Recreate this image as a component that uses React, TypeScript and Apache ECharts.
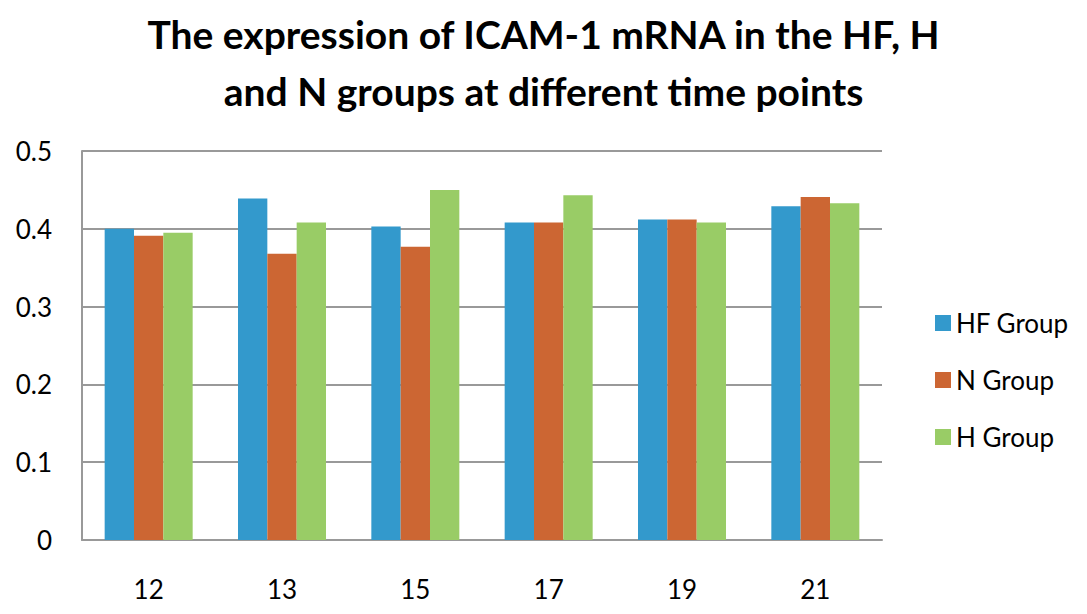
import React, { useEffect, useRef } from "react";
import * as echarts from "echarts";

const categories = ["12", "13", "15", "17", "19", "21"];
const hfGroup = [0.4, 0.439, 0.403, 0.408, 0.412, 0.429];
const nGroup = [0.391, 0.368, 0.377, 0.408, 0.412, 0.441];
const hGroup = [0.395, 0.408, 0.45, 0.443, 0.408, 0.433];
const seriesNames = ["HF Group", "N Group", "H Group"];
const colors = ["#3399CC", "#CC6633", "#99CC66"];
const titleText = "The expression of ICAM-1 mRNA in the HF, H\nand N groups at different time points";

export default function App() {
  const ref = useRef<HTMLDivElement>(null);
  useEffect(() => {
    if (!ref.current) return;
    const chart = echarts.init(ref.current, undefined, { renderer: "svg" });
    const font = "Lato, 'Open Sans', sans-serif";
    const mk = (name: string, data: number[], color: string) => ({
      name,
      type: "bar",
      data,
      barGap: "0%",
      barCategoryGap: "34%",
      itemStyle: { color },
    });
    chart.setOption({
      animation: false,
      backgroundColor: "#ffffff",
      title: {
        text: titleText,
        left: "center",
        top: 0,
        textStyle: {
          fontFamily: font,
          fontWeight: "bold",
          fontSize: 39,
          lineHeight: 57,
          color: "#000",
        },
      },
      legend: {
        orient: "vertical",
        left: 930,
        top: 305,
        itemWidth: 16,
        itemHeight: 16,
        itemGap: 31,
        icon: "rect",
        data: seriesNames,
        textStyle: { fontFamily: font, fontSize: 26, color: "#000" },
      },
      grid: { left: 82, right: 205, top: 151, bottom: 74, containLabel: false },
      xAxis: {
        type: "category",
        data: categories,
        axisTick: { show: false },
        axisLine: { lineStyle: { color: "#999", width: 2 } },
        axisLabel: { fontFamily: font, fontSize: 26, color: "#000", margin: 36 },
      },
      yAxis: {
        type: "value",
        min: 0,
        max: 0.5,
        interval: 0.1,
        axisLine: { show: true, lineStyle: { color: "#999", width: 2 } },
        axisTick: { show: false },
        splitLine: { lineStyle: { color: "#999", width: 2 } },
        axisLabel: {
          fontFamily: font,
          fontSize: 26,
          color: "#000",
          margin: 30,
          formatter: (v: number) => (v === 0 ? "0" : v.toFixed(1)),
        },
      },
      series: [
        mk(seriesNames[0], hfGroup, colors[0]),
        mk(seriesNames[1], nGroup, colors[1]),
        mk(seriesNames[2], hGroup, colors[2]),
      ],
    });
    return () => chart.dispose();
  }, []);
  return (
    <div
      ref={ref}
      style={{ position: "fixed", left: 0, top: 0, width: 1087, height: 614 }}
    />
  );
}
